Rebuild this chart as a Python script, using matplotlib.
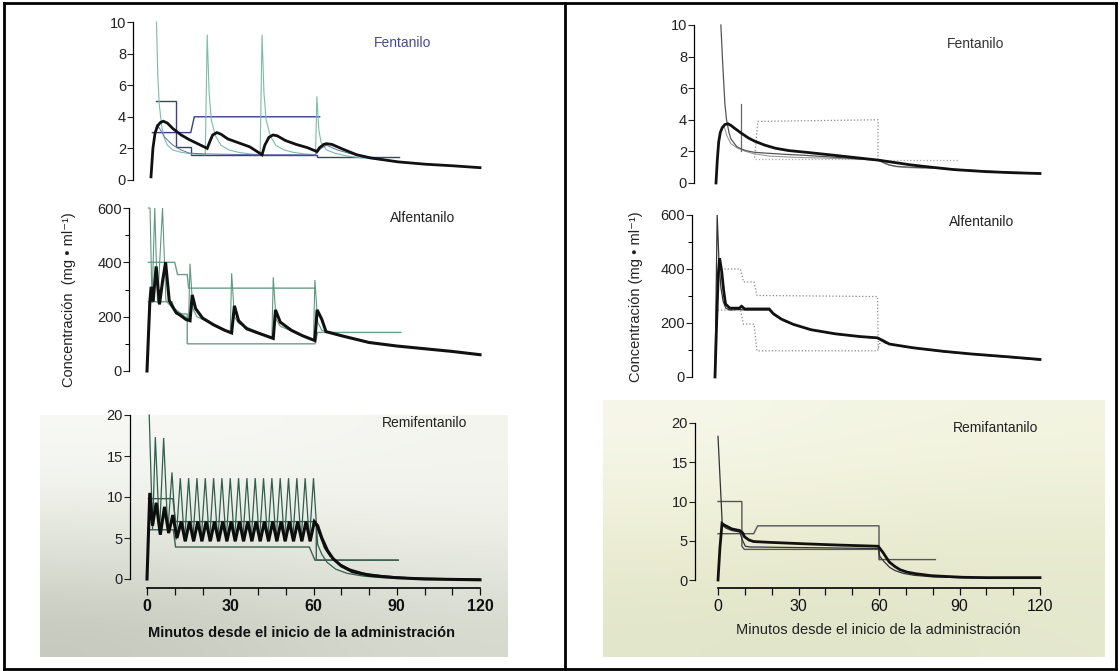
import matplotlib.pyplot as plt
import numpy as np
from matplotlib.lines import Line2D
from matplotlib.ticker import FixedLocator

W, H = 1120, 671
plt.rcParams['font.family'] = ['Liberation Sans', 'DejaVu Sans']

# ---------------- left column: intermittent boluses ----------------
# fentanilo
lf_plasma_t = [2, 2.5, 3, 4, 5, 6, 8, 11, 15, 19.8, 20.5, 21.2, 22, 23.5, 25.5, 28.5, 32, 36, 39.8,
               40.5, 41.2, 42, 43.5, 45.5, 48.5, 52, 56, 60, 60.5, 61.2, 62, 64, 67, 72, 80, 90, 100, 110, 120]
lf_plasma_v = [10, 6.5, 4.8, 3.3, 2.6, 2.2, 1.9, 1.75, 1.65, 1.6, 9.2, 5.5, 3.8, 2.8, 2.2, 1.9, 1.75, 1.65, 1.6,
               9.2, 5.5, 3.8, 2.8, 2.2, 1.9, 1.75, 1.65, 1.6, 5.3, 3.2, 2.4, 1.9, 1.7, 1.5, 1.35, 1.15, 1.0, 0.9, 0.8]
lf_infus_t = [1, 2, 3, 5, 8, 11, 14, 20, 30, 45, 60, 62, 64, 68, 75, 85]
lf_infus_v = [2.5, 3.5, 3.3, 2.7, 2.2, 1.9, 1.7, 1.65, 1.62, 1.6, 1.6, 2.0, 2.2, 1.9, 1.55, 1.3]
lf_effect_t = [0, 0.7, 1.5, 2.5, 3.5, 4.5, 6, 8, 11, 14, 17, 20.5, 21.5, 22.5, 24, 25.5, 28, 32, 36, 40.5,
               41.5, 43, 44.5, 46, 49, 53, 57, 60.5, 61.5, 63, 64, 66, 70, 75, 80, 90, 100, 110, 120]
lf_effect_v = [0.2, 2.0, 3.0, 3.45, 3.65, 3.72, 3.6, 3.25, 2.85, 2.55, 2.3, 2.0, 2.45, 2.85, 3.0, 2.9, 2.6, 2.35, 2.1, 1.6,
               2.2, 2.7, 2.85, 2.8, 2.5, 2.25, 2.05, 1.8, 2.05, 2.25, 2.3, 2.25, 1.95, 1.6, 1.4, 1.15, 1.0, 0.9, 0.78]
lf_lo_t = [2, 9.3, 9.3, 14.5, 14.5, 60.5, 60.5, 90.5]
lf_lo_v = [5.0, 5.0, 2.1, 2.1, 1.6, 1.6, 1.45, 1.45]
lf_hi_t = [0.5, 14.5, 15.8, 61.5]
lf_hi_v = [3.0, 3.0, 4.0, 4.0]

# alfentanilo
la_plasma_t = [0.5, 1.1, 1.8, 2.8, 3.8, 5.6, 6.8, 8, 15, 15.5, 16.5, 18, 30, 30.5, 31.5, 33,
               45, 45.5, 46.5, 48, 60, 60.5, 61.5, 63, 64.5, 70, 80, 90, 100, 110, 120]
la_plasma_v = [600, 600, 250, 600, 250, 600, 260, 245, 190, 395, 230, 200, 140, 360, 200, 175,
               120, 345, 190, 165, 112, 335, 180, 150, 145, 130, 105, 92, 82, 72, 60]
la_effect_t = [0, 1, 1.5, 2.2, 3.3, 4.5, 5.6, 6.7, 8, 9, 10.5, 12, 14, 15.5, 16.3, 17.5, 20, 24, 28, 30.5,
               31.5, 33, 36, 40, 45.5, 46.3, 48, 52, 56, 60.5, 61.3, 63, 64.5, 70, 80, 90, 100, 110, 120]
la_effect_v = [0, 250, 310, 255, 385, 245, 330, 400, 260, 240, 215, 205, 190, 185, 280, 230, 195, 170, 150, 140,
               240, 185, 155, 140, 120, 225, 180, 150, 130, 112, 225, 190, 145, 130, 105, 92, 82, 72, 60]
la_hi_t = [0.5, 10, 11, 14.5, 15, 60.5]
la_hi_v = [400, 400, 355, 355, 305, 305]
la_lo_t = [0.5, 9, 10.5, 14.5, 14.5, 60.5, 61.5, 91.5]
la_lo_v = [255, 255, 210, 210, 100, 100, 142, 142]

# remifentanilo
lr_plasma_t = [0.8, 2, 3, 4.5, 6, 7.5, 9, 10.5, 12, 13.5, 15, 16.5, 18, 19.5, 21, 22.5, 24, 25.5, 27, 28.5,
               30, 31.5, 33, 34.5, 36, 37.5, 39, 40.5, 42, 43.5, 45, 46.5, 48, 49.5, 51, 52.5, 54, 55.5, 57, 58.5,
               60, 61.5, 63, 65, 68, 72, 78, 85, 95, 105, 120]
lr_plasma_v = [20, 6.0, 17.3, 5.6, 17.2, 5.8, 13.0, 4.8, 12.3, 4.6, 12.3, 4.6, 12.3, 4.6, 12.3, 4.6, 12.3, 4.6, 12.3, 4.6,
               12.3, 4.6, 12.3, 4.6, 12.3, 4.6, 12.3, 4.6, 12.3, 4.6, 12.3, 4.6, 12.3, 4.6, 12.3, 4.6, 12.3, 4.6, 12.3, 4.6,
               12.3, 4.2, 3.0, 2.0, 1.2, 0.7, 0.35, 0.15, 0.05, 0.0, 0.0]
lr_effect_t = [0, 1, 2, 3.3, 4.8, 6.3, 7.8, 9.3, 10.8, 12.3, 13.8, 15.3, 16.8, 18.3, 19.8, 21.3, 22.8, 24.3, 25.8, 27.3,
               28.8, 30.3, 31.8, 33.3, 34.8, 36.3, 37.8, 39.3, 40.8, 42.3, 43.8, 45.3, 46.8, 48.3, 49.8, 51.3, 52.8, 54.3,
               55.8, 57.3, 58.8, 60.3, 61.5, 63, 65, 67, 70, 74, 80, 90, 100, 120]
lr_effect_v = [0, 10.5, 6.5, 9.3, 5.4, 8.8, 5.6, 7.8, 5.0, 7.0, 4.6, 7.0, 4.6, 7.0, 4.6, 7.0, 4.6, 7.0, 4.6, 7.0,
               4.6, 7.0, 4.6, 7.0, 4.6, 7.0, 4.6, 7.0, 4.6, 7.0, 4.6, 7.0, 4.6, 7.0, 4.6, 7.0, 4.6, 7.0,
               4.6, 7.0, 4.6, 7.0, 6.5, 5.0, 3.5, 2.5, 1.6, 0.9, 0.45, 0.15, 0.0, -0.1]
lr_effect2_t = [60, 61, 62.5, 64, 66, 69, 73, 78, 85, 95, 110, 120]
lr_effect2_v = [6.8, 6.5, 5.2, 3.8, 2.8, 1.9, 1.2, 0.7, 0.35, 0.12, 0.0, -0.1]
lr_hi_t = [0.5, 9.3, 10.3, 61, 61, 90.5]
lr_hi_v = [9.8, 9.8, 7.0, 7.0, 2.3, 2.3]
lr_lo_t = [0.5, 9.5, 10.3, 58.5, 60.5, 90.5]
lr_lo_v = [6.0, 6.0, 3.9, 3.9, 2.3, 2.3]

# ---------------- right column: infusion / target controlled ----------------
rf_plasma_t = [1.8, 2.5, 3.3, 3.9, 4.8, 5.5, 7.7, 9.4, 11, 14, 17.6, 25, 33, 45, 55, 60, 62, 64, 67, 72,
               80, 90, 100, 110, 120]
rf_plasma_v = [10, 7.5, 5.0, 4.0, 3.2, 2.8, 2.3, 2.15, 2.05, 1.95, 1.9, 1.82, 1.75, 1.62, 1.5, 1.45, 1.3, 1.15, 1.05, 1.0,
               0.95, 0.85, 0.75, 0.68, 0.62]
rf_plasma2_t = [3, 4, 5.5, 8, 11, 14, 20, 30, 40, 50, 60, 63, 66, 70, 75, 80]
rf_plasma2_v = [3.6, 3.0, 2.5, 2.2, 2.0, 1.85, 1.7, 1.62, 1.58, 1.52, 1.45, 1.2, 1.05, 0.98, 0.95, 0.95]
rf_effect_t = [0, 0.5, 1, 1.6, 2.3, 3.3, 4.4, 5.5, 7, 9.4, 12, 14.3, 18, 22, 27, 33, 44, 52, 60, 66,
               72, 77, 88, 100, 110, 120]
rf_effect_v = [0, 1.5, 2.6, 3.2, 3.5, 3.7, 3.75, 3.65, 3.45, 3.15, 2.85, 2.65, 2.4, 2.2, 2.05, 1.95, 1.75, 1.6, 1.45, 1.3,
               1.15, 1.05, 0.85, 0.72, 0.65, 0.6]
rf_a_t = [9.4, 9.4]
rf_a_v = [5.0, 2.0]
rf_b_t = [14.3, 15.5, 60, 60]
rf_b_v = [1.6, 3.9, 4.0, 1.45]
rf_lo_t = [14.3, 60, 60, 90]
rf_lo_v = [1.55, 1.55, 1.45, 1.45]

ra_plasma_t = [0, 0.8, 1.5, 2.2, 3, 4, 5.5, 9, 11, 20, 22, 26, 35, 45, 60, 63, 70, 85, 100, 120]
ra_plasma_v = [0, 600, 420, 330, 280, 255, 248, 250, 248, 248, 228, 205, 175, 158, 143, 125, 112, 93, 80, 63]
ra_effect_t = [0, 0.6, 1.2, 1.7, 2.5, 3.2, 3.9, 5.5, 9, 9.8, 11, 20, 21.5, 24.4, 28.9, 35.5, 44.4, 53.3, 60, 62,
               64.4, 73.3, 84.4, 95, 108, 120]
ra_effect_v = [0, 200, 380, 440, 390, 320, 270, 255, 255, 262, 252, 252, 235, 215, 195, 175, 160, 150, 145, 135,
               122, 108, 95, 85, 75, 65]
ra_hi_t = [1, 9.4, 10.5, 14.4, 15.5, 60, 60.3]
ra_hi_v = [400, 400, 352, 352, 302, 298, 98]
ra_lo_t = [1, 9.4, 10.5, 14.4, 15.5, 60, 61.5]
ra_lo_v = [248, 248, 196, 196, 97, 97, 145]

rr_plasma_t = [0, 1.6, 3, 5.2, 8.1, 9.2, 10.2, 12, 15, 25, 40, 59.7, 60.3, 62, 64, 66, 69, 73, 80, 90, 100, 120]
rr_plasma_v = [18.3, 7.0, 6.6, 6.3, 6.1, 5.0, 4.3, 4.2, 4.2, 4.15, 4.1, 4.0, 3.0, 2.3, 1.6, 1.2, 0.85, 0.6, 0.4, 0.3,
               0.25, 0.25]
rr_effect_t = [0, 0.7, 1.5, 2.3, 3.5, 5.2, 8.1, 9.2, 9.9, 11.5, 13.3, 19, 33, 45, 59.7, 61.5, 63.8, 66, 67.9, 70.5,
               73.7, 79.5, 85, 91, 100, 110, 120]
rr_effect_v = [0, 4.0, 7.2, 7.0, 6.8, 6.5, 6.3, 6.0, 5.5, 5.1, 4.9, 4.8, 4.6, 4.45, 4.3, 3.5, 2.3, 1.7, 1.3, 1.0,
               0.8, 0.55, 0.45, 0.35, 0.3, 0.3, 0.3]
rr_a_t = [0, 8.9, 8.9, 9.8, 60, 60.2]
rr_a_v = [10, 10, 4.3, 3.9, 3.9, 2.6]
rr_b_t = [0, 13.3, 14.8, 60, 60, 81]
rr_b_v = [5.9, 5.9, 6.9, 6.9, 2.6, 2.6]

x_major = [0, 30, 60, 90, 120]
x_minor = [10, 20, 40, 50, 70, 80, 100, 110]
ylabel_txt_l = 'Concentración  (mg • ml⁻¹)'
ylabel_txt_r = 'Concentración (mg • ml⁻¹)'
xlabel_txt = 'Minutos desde el inicio de la administración'

fig = plt.figure(figsize=(W / 100, H / 100), dpi=100)

# scan tint behind the lower plots
bg = fig.add_axes([0, 0, 1, 1], zorder=-5)
bg.set_xlim(0, W)
bg.set_ylim(H, 0)
bg.axis('off')
tint_l = np.array([[[248, 249, 245], [247, 248, 243], [244, 245, 239]],
                   [[228, 231, 221], [234, 236, 228], [238, 240, 232]],
                   [[198, 202, 190], [206, 210, 198], [214, 217, 206]]]) / 255
tint_r = np.array([[[246, 247, 234], [244, 246, 228], [243, 245, 226]],
                   [[237, 240, 214], [235, 238, 210], [233, 236, 208]],
                   [[226, 230, 202], [224, 228, 200], [228, 232, 206]]]) / 255
bg.imshow(tint_l, extent=(40, 508, 657, 415), interpolation='bicubic', aspect='auto')
bg.imshow(tint_r, extent=(603, 1105, 657, 400), interpolation='bicubic', aspect='auto')

# table frame
for x0, y0, x1, y1 in [(4, 3, 1116, 3), (4, 669, 1116, 669), (4, 3, 4, 669),
                       (1116, 3, 1116, 669), (565, 3, 565, 669)]:
    fig.add_artist(Line2D([x0 / W, x1 / W], [1 - y0 / H, 1 - y1 / H], color='black', lw=2,
                          transform=fig.transFigure))


def make_ax(t0, t120, ytop, ybot, spine_x, ymax, major, minor=None, xaxis_y=None, bold=False):
    ax = fig.add_axes([t0 / W, 1 - ybot / H, (t120 - t0) / W, (ybot - ytop) / H])
    ax.patch.set_alpha(0)
    ax.set_xlim(0, 120)
    ax.set_ylim(0, ymax)
    for s in ['top', 'right']:
        ax.spines[s].set_visible(False)
    ax.spines['left'].set_position(('outward', (t0 - spine_x) * 0.72))
    ax.spines['left'].set_bounds(0, ymax)
    ax.spines['left'].set_linewidth(0.9)
    ax.set_yticks(major)
    if minor:
        ax.yaxis.set_minor_locator(FixedLocator(minor))
    ax.tick_params(axis='y', which='major', direction='out', length=4, width=0.8, labelsize=10.5, pad=1,
                   colors='#222')
    ax.tick_params(axis='y', which='minor', direction='out', length=3, width=0.7)
    if xaxis_y is None:
        ax.spines['bottom'].set_visible(False)
        ax.tick_params(axis='x', which='both', bottom=False, labelbottom=False)
    else:
        ax.spines['bottom'].set_position(('outward', (xaxis_y - ybot) * 0.72))
        ax.spines['bottom'].set_bounds(0, 120)
        ax.spines['bottom'].set_linewidth(1.2)
        ax.set_xticks(x_major)
        ax.xaxis.set_minor_locator(FixedLocator(x_minor))
        ax.tick_params(axis='x', which='both', direction='out', length=5, width=0.9, labelsize=11.5, pad=3,
                       colors='#111')
        if bold:
            for lb in ax.get_xticklabels():
                lb.set_fontweight('bold')
    return ax


def line(ax, t, v, color, lw, ls='-', z=2):
    ax.plot(t, v, color=color, lw=lw, ls=ls, zorder=z, clip_on=False, solid_joinstyle='miter')


# ---- left column ----
ax = make_ax(151, 480, 22, 180, 133, 10, [0, 2, 4, 6, 8, 10])
line(ax, lf_lo_t, lf_lo_v, '#3c4080', 1.0)
line(ax, lf_hi_t, lf_hi_v, '#3c4080', 1.0)
line(ax, lf_plasma_t, lf_plasma_v, '#7cbcaa', 0.8)
line(ax, lf_infus_t, lf_infus_v, '#6070b0', 0.7)
line(ax, lf_effect_t, lf_effect_v, '#111111', 2.0, z=4)

ax = make_ax(147, 480, 208, 371, 129, 600, [0, 200, 400, 600], [100, 300, 500])
line(ax, la_hi_t, la_hi_v, '#6e9c88', 1.0)
line(ax, la_lo_t, la_lo_v, '#6e9c88', 1.0)
line(ax, la_plasma_t, la_plasma_v, '#5c9a80', 0.8)
line(ax, la_effect_t, la_effect_v, '#111111', 2.2, z=4)

ax = make_ax(147, 480, 415, 579, 130, 20, [0, 5, 10, 15, 20], xaxis_y=588, bold=True)
line(ax, lr_hi_t, lr_hi_v, '#3e5e52', 1.0)
line(ax, lr_lo_t, lr_lo_v, '#3e5e52', 1.0)
line(ax, lr_plasma_t, lr_plasma_v, '#2f5f50', 0.9)
line(ax, lr_effect2_t, lr_effect2_v, '#222222', 1.2, z=3)
line(ax, lr_effect_t, lr_effect_v, '#0d0d0d', 2.2, z=4)

# ---- right column ----
ax = make_ax(716, 1040, 25, 183, 694, 10, [0, 2, 4, 6, 8, 10])
line(ax, rf_a_t, rf_a_v, '#666666', 0.9)
line(ax, rf_b_t, rf_b_v, '#888888', 0.9, ':')
line(ax, rf_lo_t, rf_lo_v, '#aaaaaa', 0.9, ':')
line(ax, rf_plasma2_t, rf_plasma2_v, '#9a9a9a', 0.8)
line(ax, rf_plasma_t, rf_plasma_v, '#555555', 0.9)
line(ax, rf_effect_t, rf_effect_v, '#111111', 2.0, z=4)

ax = make_ax(715, 1040, 215, 377, 692, 600, [0, 200, 400, 600], [100, 300, 500])
line(ax, ra_hi_t, ra_hi_v, '#888888', 0.9, ':')
line(ax, ra_lo_t, ra_lo_v, '#888888', 0.9, ':')
line(ax, ra_plasma_t, ra_plasma_v, '#333333', 0.9)
line(ax, ra_effect_t, ra_effect_v, '#111111', 2.0, z=4)

ax = make_ax(718, 1040, 423, 580, 695, 20, [0, 5, 10, 15, 20], xaxis_y=588)
line(ax, rr_a_t, rr_a_v, '#555555', 1.0)
line(ax, rr_b_t, rr_b_v, '#555555', 1.0)
line(ax, rr_plasma_t, rr_plasma_v, '#333333', 0.9)
line(ax, rr_effect_t, rr_effect_v, '#111111', 2.0, z=4)


# texts
def ftext(x, y, s, **kw):
    fig.text(x / W, 1 - y / H, s, ha='center', va='center', **kw)


ftext(403, 43, 'Fentanilo', fontsize=10, color='#4a4a8e')
ftext(423, 218, 'Alfentanilo', fontsize=10, color='#222')
ftext(425, 423, 'Remifentanilo', fontsize=10, color='#222')
ftext(976, 44, 'Fentanilo', fontsize=10, color='#333')
ftext(982, 222, 'Alfentanilo', fontsize=10, color='#222')
ftext(996, 428, 'Remifantanilo', fontsize=10, color='#222')

ftext(69, 300, ylabel_txt_l, fontsize=10.5, rotation=90, color='#222')
ftext(636, 297, ylabel_txt_r, fontsize=10.5, rotation=90, color='#222')
ftext(301, 633, xlabel_txt, fontsize=10.5, fontweight='bold', color='#111')
ftext(878, 630, xlabel_txt, fontsize=10.5, color='#222')

fig.savefig('out.png', dpi=100)
